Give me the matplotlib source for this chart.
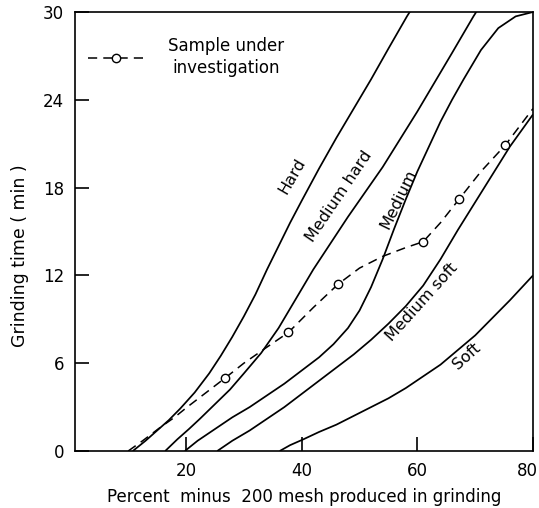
import matplotlib
matplotlib.use("Agg")
import matplotlib.pyplot as plt
from matplotlib.transforms import ScaledTranslation

# ---- data ----
hard_x = [10.8, 13, 15, 17, 19, 21.5, 24, 26, 28, 30, 32, 34, 36, 38, 40, 43, 46, 49, 52, 55, 58.2, 59]
hard_y = [0, 0.7, 1.4, 2.1, 2.9, 4.0, 5.3, 6.5, 7.8, 9.2, 10.7, 12.4, 14.0, 15.6, 17.1, 19.3, 21.4, 23.4, 25.4, 27.5, 29.7, 30.2]

medhard_x = [16.4, 18.5, 20.5, 22.4, 25, 27.6, 30, 33, 36, 39, 42, 45, 48, 51, 54, 57, 60, 63, 66, 69.7, 70.5]
medhard_y = [0, 0.8, 1.5, 2.2, 3.2, 4.2, 5.3, 6.7, 8.4, 10.4, 12.4, 14.2, 16.0, 17.7, 19.4, 21.3, 23.2, 25.2, 27.2, 29.7, 30.2]

medium_x = [19.8, 22, 25, 28, 31, 34, 37, 40, 43, 45.5, 48, 50, 52, 54, 56, 58, 60, 62, 64, 66, 68, 71, 74, 77, 80]
medium_y = [0, 0.7, 1.5, 2.3, 3.0, 3.8, 4.6, 5.5, 6.4, 7.3, 8.4, 9.6, 11.2, 13.1, 15.2, 17.2, 19.1, 20.8, 22.5, 24.0, 25.4, 27.4, 28.9, 29.7, 30.0]

medsoft_x = [25.4, 28, 31, 34, 37, 40, 43, 46, 49, 52, 55, 58, 61, 64, 67, 70, 73, 76, 80]
medsoft_y = [0, 0.7, 1.4, 2.2, 3.0, 3.9, 4.8, 5.7, 6.6, 7.6, 8.7, 9.9, 11.3, 13.1, 15.1, 17.0, 18.9, 20.8, 23.0]

soft_x = [36.2, 38, 40.3, 43, 46, 49, 52, 55, 58, 61, 64, 67, 70, 73, 76, 80]
soft_y = [0, 0.4, 0.8, 1.3, 1.8, 2.4, 3.0, 3.6, 4.3, 5.1, 5.9, 6.9, 7.9, 9.1, 10.3, 12.0]

sample_x = [10.0, 12.5, 15.5, 18, 20.2, 23.5, 26.8, 30, 34, 37.7, 42, 46.3, 50, 54, 58, 61.0, 64, 67.2, 71, 75.2, 80]
sample_y = [0, 0.7, 1.6, 2.3, 3.0, 4.0, 5.0, 6.0, 7.1, 8.1, 9.8, 11.4, 12.5, 13.3, 13.9, 14.3, 15.6, 17.2, 19.1, 20.9, 23.4]
sample_marker_idx = [6, 9, 11, 15, 17, 19]

curve_labels = ["Hard", "Medium hard", "Medium", "Medium soft", "Soft"]
x_ticks = [20, 40, 60, 80]
y_ticks = [0, 6, 12, 18, 24, 30]

# ---- figure ----
fig = plt.figure(figsize=(5.39, 5.08), dpi=100)
ax = fig.add_axes([75 / 539, 57 / 508, 458 / 539, 439 / 508])

lw = 1.25
for xs, ys in [(hard_x, hard_y), (medhard_x, medhard_y), (medium_x, medium_y),
               (medsoft_x, medsoft_y), (soft_x, soft_y)]:
    ax.plot(xs, ys, color="black", lw=lw, solid_capstyle="butt", solid_joinstyle="round")

ax.plot(sample_x, sample_y, color="black", lw=1.1, linestyle=(0, (6, 4)),
        marker="o", markevery=sample_marker_idx, markersize=6,
        markerfacecolor="white", markeredgecolor="black", markeredgewidth=1.0,
        label="Sample under\ninvestigation")

# curve labels
label_pos = [(38.4, 18.8, 60), (46.4, 17.4, 56), (56.8, 17.2, 64), (60.8, 10.2, 48), (68.6, 6.5, 42)]
for txt, (lx, ly, rot) in zip(curve_labels, label_pos):
    ax.text(lx, ly, txt, rotation=rot, rotation_mode="anchor", ha="center", va="center",
            fontsize=11.5, color="black")

ax.set_xlim(0.8, 80)
ax.set_ylim(0, 30)
ax.set_xticks(x_ticks)
ax.set_yticks(y_ticks)
ax.tick_params(direction="in", length=10, width=1.2, labelsize=12, pad=8)
for s in ax.spines.values():
    s.set_linewidth(1.2)

# keep the "80" label inside the figure
last = ax.get_xticklabels()[-1]
last.set_transform(last.get_transform() + ScaledTranslation(-6 / 100, 0, fig.dpi_scale_trans))

ax.set_xlabel("Percent  minus  200 mesh produced in grinding", fontsize=12, labelpad=6)
ax.set_ylabel("Grinding time ( min )", fontsize=12.5)
ax.yaxis.set_label_coords(-0.1, 0.446)

leg = ax.legend(loc="upper left", bbox_to_anchor=(0.028, 0.943), frameon=False,
                handlelength=3.4, handletextpad=1.4, borderpad=0, borderaxespad=0,
                fontsize=12)
for t in leg.get_texts():
    t.set_multialignment("center")
    t.set_linespacing(1.25)

fig.savefig("out.png", dpi=100)
